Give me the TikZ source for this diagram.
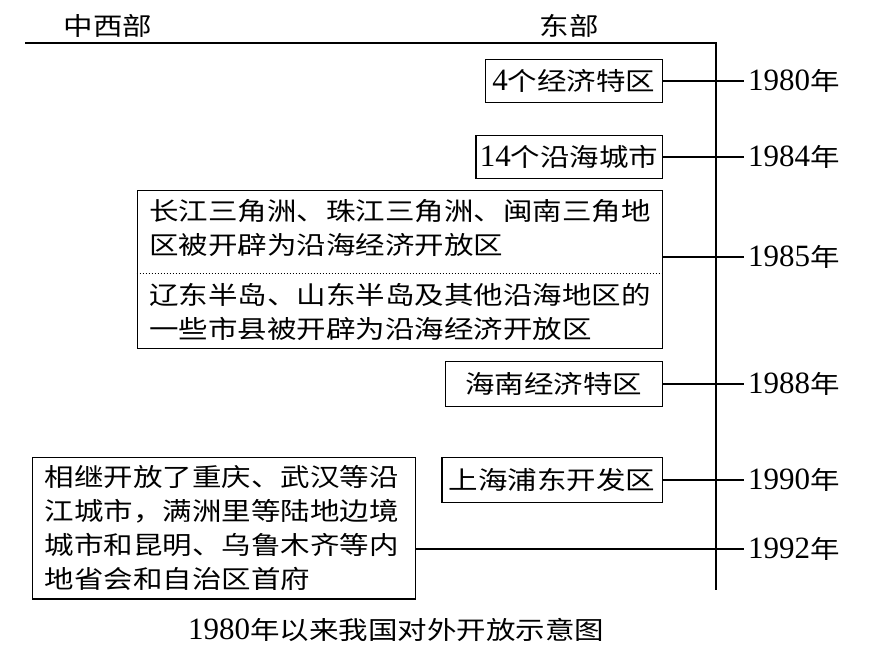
\documentclass[tikz,border=0pt]{standalone}
\usepackage{fontspec}
\setmainfont[Scale=1.24]{Liberation Serif}
\newfontfamily\cjk[FakeStretch=1.18]{Noto Sans CJK SC}
\newcommand\dg[1]{{\rmfamily #1}}
\tikzset{
  zone/.style={draw, line width=1.3pt, inner xsep=7pt, inner ysep=0pt, minimum height=43pt, align=left},
  wide/.style={zone, inner xsep=12pt, inner ysep=8pt},
  year/.style={anchor=west, inner sep=4pt},
  link/.style={line width=1.3pt},
  divider/.style={dotted, line width=1pt}
}
\begin{document}
\begin{tikzpicture}[x=1pt,y=-1pt,font=\cjk\fontsize{25}{34}\selectfont]
    \useasboundingbox (0,0) rectangle (869,650);
    % headers and axis
    \node (west) at (108,26) {中西部};
    \node (east) at (569,26) {东部};
    \coordinate (top) at (25,43);
    \coordinate (bottom) at (716,590);
    \draw[link] (top) -| (bottom);
    % east side
    \node[zone, anchor=east] (zone80) at (663,81) {\dg{4}个经济特区};
    \node[zone, anchor=east, inner xsep=4pt] (zone84) at (663,157) {\dg{14}个沿海城市};
    \node[wide, anchor=north east, text width=501pt, minimum height=158pt] (zone85) at (663,190)
        {长江三角洲、珠江三角洲、闽南三角地\\区被开辟为沿海经济开放区\\[16pt]
         辽东半岛、山东半岛及其他沿海地区的\\一些市县被开辟为沿海经济开放区};
    \node[zone, anchor=east, minimum width=217pt, minimum height=45pt] (zone88) at (663,384) {海南经济特区};
    \node[zone, anchor=east, minimum height=45pt] (zone90) at (663,480) {上海浦东开发区};
    % west side
    \node[wide, anchor=north west, text width=359pt, minimum height=139pt] (zone92) at (32,457)
        {相继开放了重庆、武汉等沿\\江城市，满洲里等陆地边境\\城市和昆明、乌鲁木齐等内\\地省会和自治区首府};
    \draw[divider] ([yshift=-83pt]zone85.north west) -- ([yshift=-83pt]zone85.north east);
    % years
    \node[year] (y1980) at (744,81) {\dg{1980}年};
    \node[year] (y1984) at (744,157) {\dg{1984}年};
    \node[year] (y1985) at (744,257) {\dg{1985}年};
    \node[year] (y1988) at (744,384) {\dg{1988}年};
    \node[year] (y1990) at (744,480) {\dg{1990}年};
    \node[year] (y1992) at (744,549) {\dg{1992}年};
    \draw[link] (zone80.east) -- (y1980.west);
    \draw[link] (zone84.east) -- (y1984.west);
    \draw[link] (zone85.east |- y1985.west) -- (y1985.west);
    \draw[link] (zone88.east) -- (y1988.west);
    \draw[link] (zone90.east) -- (y1990.west);
    \draw[link] (zone92.east |- y1992.west) -- (y1992.west);
    % caption
    \node (caption) at (396,630) {\dg{1980}年以来我国对外开放示意图};
\end{tikzpicture}
\end{document}
